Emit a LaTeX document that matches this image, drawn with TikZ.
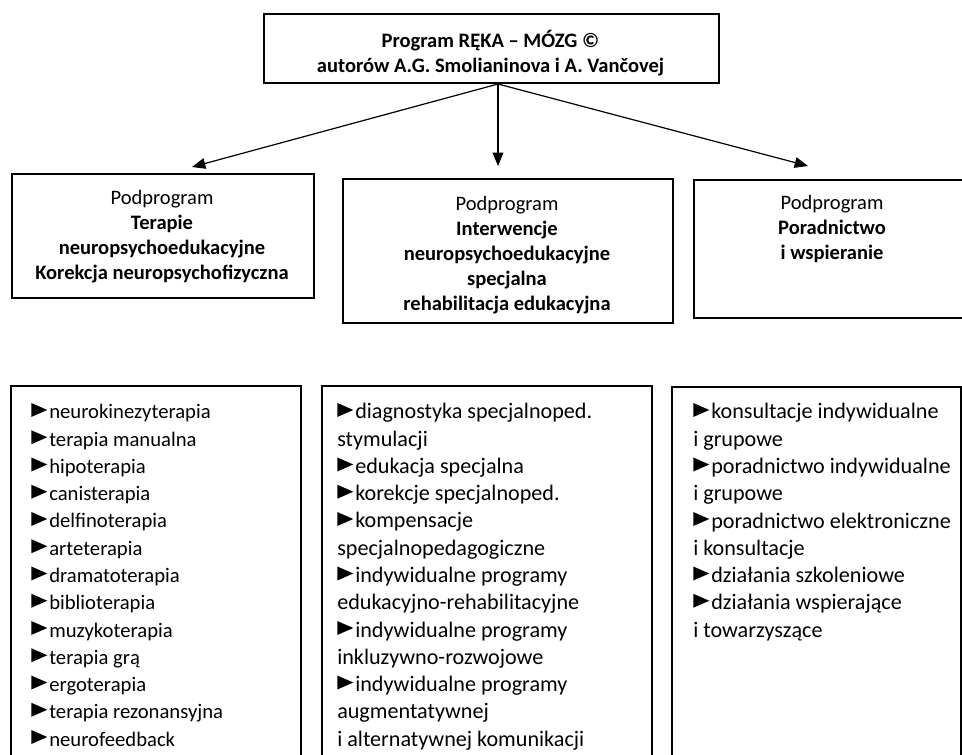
\documentclass[tikz,border=0pt]{standalone}
\usepackage{fontspec}
\setmainfont{Carlito}
\usetikzlibrary{arrows.meta}
\newcommand{\tri}{\tikz[baseline=0pt]\fill (0pt,1.5pt)--(0pt,12pt)--(12pt,6.75pt)--cycle;\hspace{1.5pt}}
\begin{document}
\begin{tikzpicture}[x=0.75pt,y=-0.75pt,
  box/.style={draw, line width=1.2pt, inner sep=0pt, anchor=north west},
  txt/.style={inner sep=0pt, align=center, anchor=base, font=\fontsize{15.4pt}{18.75pt}\selectfont},
  list/.style={inner sep=0pt, align=left, anchor=base west, font=\fontsize{16.6pt}{20.44pt}\selectfont},
  arr/.style={line width=0.9pt, -{Triangle[length=10pt,width=8pt]}}]
\useasboundingbox (0,0) rectangle (962,754);
\clip (0,0) rectangle (962,754);
% boxes
\node[box, minimum width=341.25pt, minimum height=51.75pt] (top) at (263,13) {};
\node[box, minimum width=226.5pt, minimum height=93pt] (lbox) at (11,173) {};
\node[box, minimum width=247.5pt, minimum height=108pt] (mbox) at (342,178) {};
\node[box, minimum width=208.5pt, minimum height=103.5pt] (rbox) at (693,179) {};
\node[box, minimum width=217.5pt, minimum height=311.25pt] (llist) at (10,385) {};
\node[box, minimum width=247.5pt, minimum height=311.25pt] (mlist) at (321,385) {};
\node[box, minimum width=216.75pt, minimum height=311.25pt] (rlist) at (671,386) {};
% texts (anchor base = baseline of the last line)
\node[txt] (toptext) at (490.5,72) {\textbf{Program RĘKA – MÓZG ©}\\\textbf{autorów A.G. Smolianinova i A. Vančovej}};
\node[txt] (ltext) at (162,279) {Podprogram\\\textbf{Terapie}\\\textbf{neuropsychoedukacyjne}\\\textbf{Korekcja neuropsychofizyczna}};
\node[txt] (mtext) at (507,310) {Podprogram\\\textbf{Interwencje}\\\textbf{neuropsychoedukacyjne}\\\textbf{specjalna}\\\textbf{rehabilitacja edukacyjna}};
\node[txt] (rtext) at (832,259) {Podprogram\\\textbf{Poradnictwo}\\\textbf{i wspieranie}};
\node[list, font=\fontsize{15.5pt}{20.44pt}\selectfont] (ll) at (31,746) {\tri neurokinezyterapia\\\tri terapia manualna\\\tri hipoterapia\\\tri canisterapia\\\tri delfinoterapia\\\tri arteterapia\\\tri dramatoterapia\\\tri biblioterapia\\\tri muzykoterapia\\\tri terapia grą\\\tri ergoterapia\\\tri terapia rezonansyjna\\\tri neurofeedback};
\node[list] (ml) at (337,746) {\tri diagnostyka specjalnoped.\\stymulacji\\\tri edukacja specjalna\\\tri korekcje specjalnoped.\\\tri kompensacje\\specjalnopedagogiczne\\\tri indywidualne programy\\edukacyjno-rehabilitacyjne\\\tri indywidualne programy\\inkluzywno-rozwojowe\\\tri indywidualne programy\\augmentatywnej\\i alternatywnej komunikacji};
\node[list] (rl) at (693,637) {\tri konsultacje indywidualne\\i grupowe\\\tri poradnictwo indywidualne\\i grupowe\\\tri poradnictwo elektroniczne\\i konsultacje\\\tri działania szkoleniowe\\\tri działania wspierające\\i towarzyszące};
% arrows
\coordinate (src) at (498,84);
\coordinate (t1) at (192,167);
\coordinate (t2) at (498,166);
\coordinate (t3) at (808,166);
\draw[arr] (src) -- (t1);
\draw[arr] (src) -- (t2);
\draw[arr] (src) -- (t3);
\end{tikzpicture}
\end{document}
